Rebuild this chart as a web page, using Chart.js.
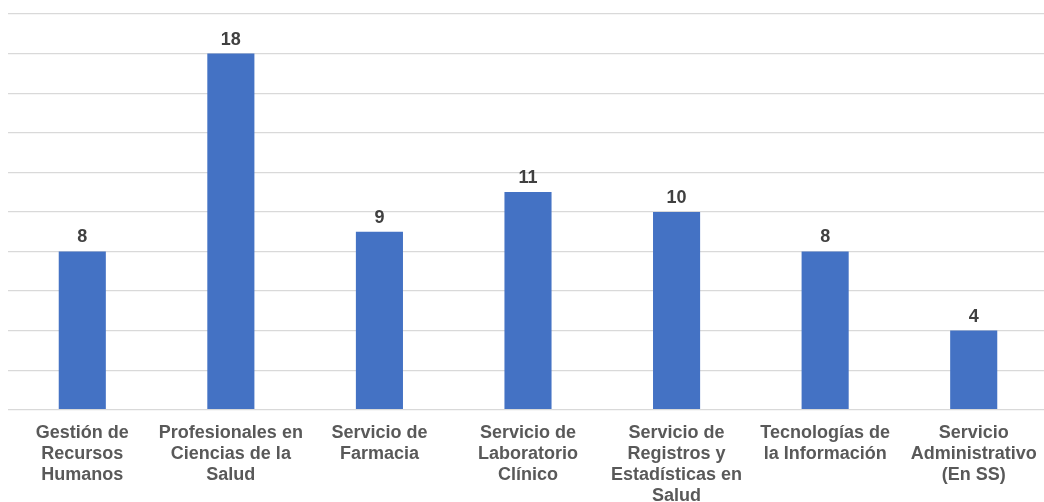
<!DOCTYPE html>
<html lang="es">
<head>
<meta charset="utf-8">
<script src="https://cdn.jsdelivr.net/npm/chart.js@4/dist/chart.umd.min.js"></script>
<style>
  html, body { margin: 0; padding: 0; background: #ffffff; overflow: hidden; }
  #wrap { width: 1050px; height: 520px; }
</style>
</head>
<body>
<div id="wrap"><canvas id="chart" width="1050" height="520"></canvas></div>
<script>
// Categories (each split into the lines shown under the axis)
const categories = [
  ["Gestión de", "Recursos", "Humanos"],
  ["Profesionales en", "Ciencias de la", "Salud"],
  ["Servicio de", "Farmacia"],
  ["Servicio de", "Laboratorio", "Clínico"],
  ["Servicio de", "Registros y", "Estadísticas en", "Salud"],
  ["Tecnologías de", "la Información"],
  ["Servicio", "Administrativo", "(En SS)"]
];

// Count per category
const counts = [8, 18, 9, 11, 10, 8, 4];

// Value axis range
const axisMin = 0;
const axisMax = 20;
const axisStep = 2;

const FONT_FAMILY = "'Liberation Sans', Arial, sans-serif";

// Writes each bar's value just above it
const valueLabels = {
  id: 'valueLabels',
  afterDatasetsDraw(chart) {
    const ctx = chart.ctx;
    ctx.save();
    ctx.font = "bold 18px " + FONT_FAMILY;
    ctx.fillStyle = "#404040";
    ctx.textAlign = "center";
    ctx.textBaseline = "alphabetic";
    chart.data.datasets.forEach((ds, di) => {
      const meta = chart.getDatasetMeta(di);
      meta.data.forEach((bar, i) => {
        ctx.fillText(String(ds.data[i]), bar.x, bar.y - 9);
      });
    });
    ctx.restore();
  }
};

new Chart(document.getElementById('chart'), {
  type: 'bar',
  data: {
    labels: categories,
    datasets: [{
      data: counts,
      backgroundColor: "#4472c4",
      borderWidth: 0,
      barPercentage: 0.317,
      categoryPercentage: 1.0
    }]
  },
  options: {
    responsive: false,
    animation: false,
    layout: { padding: { left: 8, right: 2, top: 14, bottom: 0 } },
    plugins: {
      legend: { display: false },
      tooltip: { enabled: false }
    },
    scales: {
      x: {
        grid: { display: false, drawTicks: false },
        border: { display: false },
        ticks: {
          color: "#595959",
          font: { family: FONT_FAMILY, size: 18, weight: "bold", lineHeight: 1.17 },
          padding: 13,
          maxRotation: 0,
          minRotation: 0,
          autoSkip: false
        }
      },
      y: {
        min: axisMin,
        max: axisMax,
        ticks: { display: false, stepSize: axisStep },
        grid: { color: "#d9d9d9", lineWidth: 1.3, drawTicks: false },
        border: { display: false }
      }
    }
  },
  plugins: [valueLabels]
});
</script>
</body>
</html>
